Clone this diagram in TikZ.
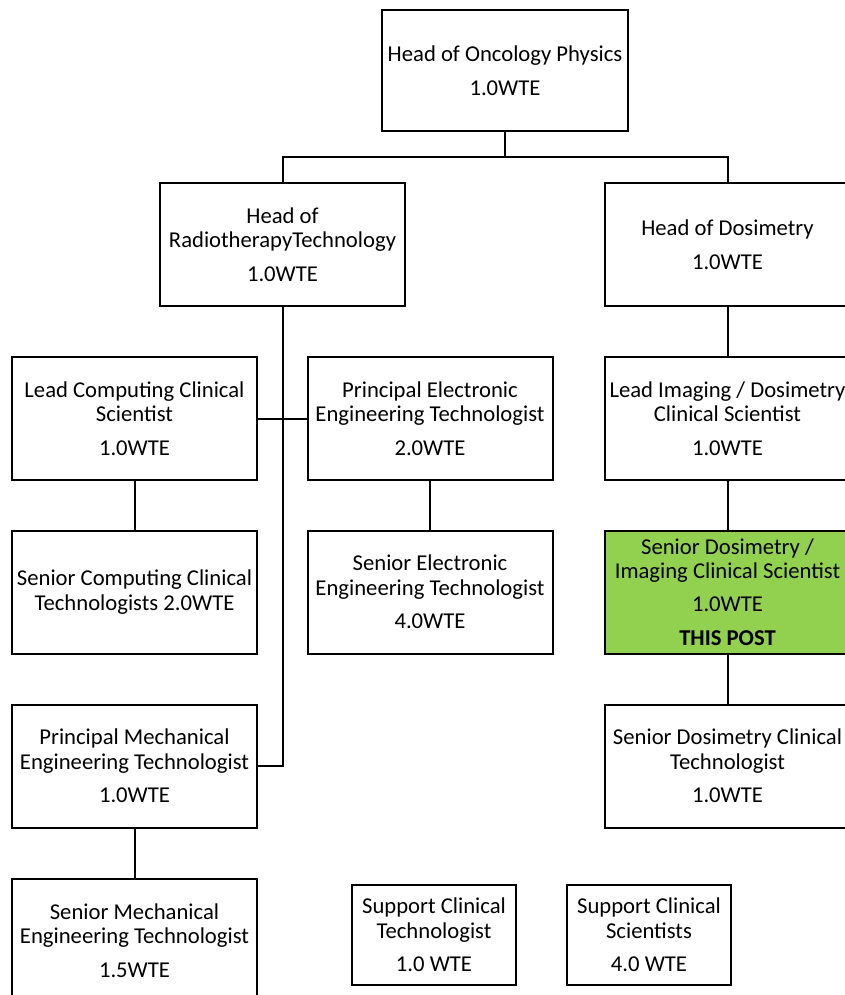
\documentclass[tikz,border=0pt]{standalone}
\usepackage{fontspec}
\setmainfont{Carlito}
\definecolor{postgreen}{HTML}{92D050}
\tikzstyle{post}=[draw, line width=1.5pt, minimum width=183.75pt, minimum height=92.25pt, align=center, inner sep=2pt, font=\fontsize{17}{18.2}\selectfont]
\tikzstyle{thispost}=[post, fill=postgreen]
\tikzstyle{support}=[post, minimum width=123pt, minimum height=75pt]
\tikzstyle{link}=[line width=1.5pt]

\begin{document}
\begin{tikzpicture}[x=0.75pt, y=-0.75pt]
\useasboundingbox (0,0) rectangle (845,995);
\clip (0,0) rectangle (845,995);

\node[post, minimum width=184.5pt, minimum height=90.75pt](hop) at (505, 70.5) {Head of Oncology Physics\\[7pt]1.0WTE};

\node[post](hrt) at (282.5, 244.5) {Head of\\RadiotherapyTechnology\\[7pt]1.0WTE};
\node[post](hdos) at (727.5, 244.5) {Head of Dosimetry\\[7pt]1.0WTE};

\node[post](lcc) at (134.5, 418.5) {Lead Computing Clinical\\Scientist\\[7pt]1.0WTE};
\node[post](pee) at (430, 418.5) {Principal Electronic\\Engineering Technologist\\[7pt]2.0WTE};
\node[post](lid) at (727.5, 418.5) {Lead Imaging / Dosimetry\\Clinical Scientist\\[7pt]1.0WTE};

\node[post](scc) at (134.5, 592) {Senior Computing Clinical\\Technologists 2.0WTE};
\node[post](see) at (430, 592) {Senior Electronic\\Engineering Technologist\\[7pt]4.0WTE};
\node[thispost](sdi) at (727.5, 592) {Senior Dosimetry /\\Imaging Clinical Scientist\\[7pt]1.0WTE\\[7pt]\textbf{THIS POST}};

\node[post](pme) at (134.5, 766) {Principal Mechanical\\Engineering Technologist\\[7pt]1.0WTE};
\node[post](sdc) at (727.5, 766) {Senior Dosimetry Clinical\\Technologist\\[7pt]1.0WTE};

\node[post](sme) at (134.5, 940.5) {Senior Mechanical\\Engineering Technologist\\[7pt]1.5WTE};
\node[support](sct) at (434, 935) {Support Clinical\\Technologist\\[7pt]1.0 WTE};
\node[support](scs) at (649, 935) {Support Clinical\\Scientists\\[7pt]4.0 WTE};

\coordinate (split) at (505, 157);

\begin{scope}[every path/.style={link}]
       \draw (hop.south) -- (split);
       \draw (hrt.north) |- (split) -| (hdos.north);

       \draw (hrt.south) |- (pme.east);
       \draw (lcc.east) -- (pee.west);

       \draw (lcc.south) -- (scc.north);
       \draw (pee.south) -- (see.north);
       \draw (pme.south) -- (sme.north);

       \draw (hdos.south) -- (lid.north);
       \draw (lid.south) -- (sdi.north);
       \draw (sdi.south) -- (sdc.north);
\end{scope}
\end{tikzpicture}
\end{document}
